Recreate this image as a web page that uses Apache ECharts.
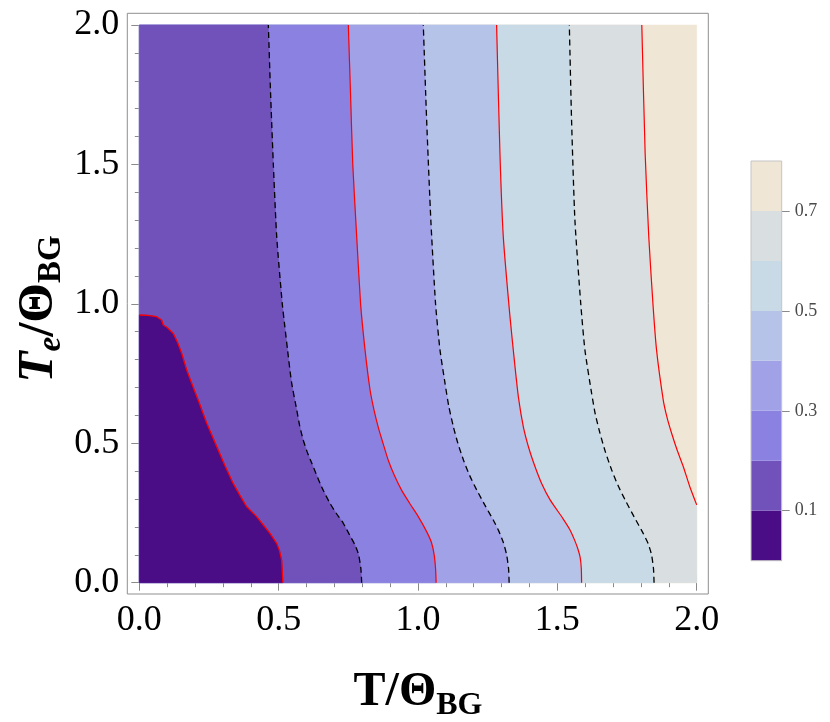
<!DOCTYPE html>
<html><head><meta charset="utf-8">
<script src="https://cdn.jsdelivr.net/npm/echarts@6/dist/echarts.min.js"></script>
<style>html,body{margin:0;padding:0;background:#fff}#chart{width:830px;height:722px}</style>
</head><body><div id="chart"></div>
<script>
// ---------- data ----------
const xDomain = [0, 2];
const yDomain = [0, 2];
const xTickValues = [0, 0.5, 1.0, 1.5, 2.0];
const yTickValues = [0, 0.5, 1.0, 1.5, 2.0];
const contourLevels = [0.1, 0.2, 0.3, 0.4, 0.5, 0.6, 0.7];
const colorbarEdges = [0, 0.1, 0.2, 0.3, 0.4, 0.5, 0.6, 0.7, 0.8];
const colorbarLabelValues = [0.1, 0.3, 0.5, 0.7];

// contour lines, points [x, y] ordered from bottom to top
const contour_01 = [[0.515,0],[0.513,0.04],[0.511,0.08],[0.503,0.115],[0.493,0.141],[0.469,0.177],[0.445,0.207],[0.421,0.237],[0.385,0.273],[0.360,0.315],[0.337,0.356],[0.307,0.42],[0.278,0.488],[0.242,0.572],[0.215,0.645],[0.188,0.715],[0.170,0.763],[0.152,0.823],[0.137,0.862],[0.122,0.894],[0.100,0.915],[0.086,0.924],[0.080,0.942],[0.062,0.954],[0.03,0.959],[0,0.960]];
const contour_02 = [[0.798,0],[0.795,0.05],[0.787,0.1],[0.774,0.135],[0.755,0.17],[0.732,0.213],[0.706,0.25],[0.684,0.285],[0.654,0.344],[0.619,0.428],[0.602,0.47],[0.588,0.512],[0.575,0.565],[0.565,0.619],[0.546,0.72],[0.532,0.834],[0.522,0.92],[0.513,1.0],[0.493,1.241],[0.481,1.498],[0.471,1.755],[0.463,2.0]];
const contour_03 = [[1.065,0],[1.063,0.05],[1.058,0.1],[1.048,0.145],[1.030,0.185],[1.001,0.237],[0.970,0.285],[0.941,0.332],[0.915,0.385],[0.893,0.44],[0.872,0.508],[0.857,0.559],[0.842,0.62],[0.828,0.691],[0.810,0.834],[0.794,1.0],[0.780,1.241],[0.766,1.498],[0.758,1.75],[0.750,2.0]];
const contour_04 = [[1.327,0],[1.325,0.05],[1.318,0.1],[1.306,0.145],[1.290,0.185],[1.270,0.225],[1.240,0.278],[1.211,0.332],[1.185,0.385],[1.163,0.44],[1.143,0.5],[1.127,0.559],[1.110,0.635],[1.097,0.715],[1.079,0.834],[1.063,1.0],[1.046,1.301],[1.031,1.659],[1.019,2.0]];
const contour_05 = [[1.587,0],[1.586,0.05],[1.582,0.09],[1.574,0.12],[1.563,0.15],[1.545,0.19],[1.520,0.23],[1.474,0.297],[1.444,0.355],[1.420,0.416],[1.397,0.485],[1.378,0.559],[1.361,0.66],[1.348,0.775],[1.330,0.954],[1.306,1.241],[1.294,1.54],[1.282,2.0]];
const contour_06 = [[1.847,0],[1.845,0.05],[1.838,0.1],[1.826,0.14],[1.808,0.177],[1.776,0.235],[1.743,0.297],[1.717,0.35],[1.695,0.404],[1.672,0.47],[1.653,0.536],[1.636,0.605],[1.623,0.679],[1.599,0.834],[1.584,1.0],[1.563,1.301],[1.551,1.659],[1.543,2.0]];
const contour_07 = [[2.0,0.279],[1.975,0.345],[1.952,0.416],[1.930,0.475],[1.910,0.536],[1.893,0.595],[1.880,0.655],[1.856,0.834],[1.843,1.0],[1.828,1.241],[1.815,1.54],[1.803,2.0]];

// ---------- styles ----------
const bandColors = ['#4b0d85','#7152bb','#8b81e0','#a1a1e7','#b4c3e7','#c8dae6','#d9dfe0','#f0e6d6'];
const lineStyles = [
  {color:'#ff0000', width:1.3},
  {color:'#000000', width:1.3, type:[6,4]},
  {color:'#ff0000', width:1.2},
  {color:'#000000', width:1.3, type:[6,4]},
  {color:'#ff0000', width:1.2},
  {color:'#000000', width:1.3, type:[6,4]},
  {color:'#ff0000', width:1.2}
];
const SERIF = '"Liberation Serif","DejaVu Serif",serif';

const contours = [contour_01, contour_02, contour_03, contour_04, contour_05, contour_06, contour_07];

// polygons of region "value < level", last band is the full domain
function regionPolygon(k) {
  const pts = contours[k];
  const x0 = xDomain[0], x1 = xDomain[1], y0 = yDomain[0], y1 = yDomain[1];
  const first = pts[0], last = pts[pts.length - 1];
  const poly = [[x0, y0]];
  if (first[0] === x1) poly.push([x1, y0]);
  pts.forEach(p => poly.push(p));
  if (last[1] === y1) poly.push([x0, y1]);
  return poly;
}
const fullRect = [[xDomain[0], yDomain[0]],[xDomain[1], yDomain[0]],[xDomain[1], yDomain[1]],[xDomain[0], yDomain[1]]];
const fillPolys = [fullRect];
const fillColors = [bandColors[7]];
for (let k = contours.length - 1; k >= 0; k--) {
  fillPolys.push(regionPolygon(k));
  fillColors.push(bandColors[k]);
}

const chart = echarts.init(document.getElementById('chart'), null, {renderer:'canvas'});

const tickColor = '#8a8a8a';
const fmt1 = v => v.toFixed(1);

const series = [];
series.push({
  type: 'custom',
  coordinateSystem: 'cartesian2d',
  xAxisIndex: 1, yAxisIndex: 1,
  silent: true,
  data: fillPolys.map((p, i) => [i, 0]),
  encode: {x: 0, y: 1},
  renderItem: function (params, api) {
    const poly = fillPolys[params.dataIndex].map(p => api.coord(p));
    return {type: 'polygon', shape: {points: poly}, style: {fill: fillColors[params.dataIndex], stroke: fillColors[params.dataIndex], lineWidth: 0.5}};
  },
  z: 1
});
contours.forEach((c, k) => {
  series.push({
    type: 'line',
    xAxisIndex: 1, yAxisIndex: 1,
    data: c,
    showSymbol: false,
    symbol: 'none',
    smooth: k === 0 ? false : 0.2,
    lineStyle: lineStyles[k],
    silent: true,
    z: 3
  });
});
for (let i = 0; i < colorbarEdges.length - 1; i++) {
  series.push({
    type: 'bar',
    xAxisIndex: 3, yAxisIndex: 3,
    stack: 'cb',
    barWidth: '100%',
    data: [colorbarEdges[i + 1] - colorbarEdges[i]],
    itemStyle: {color: bandColors[i]},
    silent: true
  });
}

const option = {
  animation: false,
  backgroundColor: '#ffffff',
  grid: [
    {left: 127.3, top: 13.3, right: 121.7, bottom: 128, show: true, borderColor: '#8f8f8f', borderWidth: 1, backgroundColor: 'transparent'},
    {left: 139.3, top: 25, right: 133.3, bottom: 139.3},
    {left: 751, top: 161, width: 30.7, height: 399.7, show: true, borderColor: '#c4c4c4', borderWidth: 1, backgroundColor: 'transparent', z: 5}
  ],
  xAxis: [
    {gridIndex: 0, type: 'value', min: -0.042, max: 2.042, show: false},
    {gridIndex: 1, type: 'value', min: xDomain[0], max: xDomain[1], interval: 0.5, position: 'bottom', offset: 11.3,
      axisLine: {show: false},
      axisTick: {show: true, inside: true, length: 8, lineStyle: {color: tickColor, width: 1}},
      minorTick: {show: true, splitNumber: 5, length: 4.5, lineStyle: {color: tickColor, width: 1}},
      axisLabel: {show: true, fontFamily: SERIF, fontSize: 36, color: '#000', margin: 9, formatter: fmt1,
        customValues: xTickValues},
      splitLine: {show: false}},
    {gridIndex: 1, type: 'value', min: xDomain[0], max: xDomain[1], interval: 0.5, position: 'top', offset: 11.7,
      axisLine: {show: false},
      axisTick: {show: true, inside: true, length: 8, lineStyle: {color: tickColor, width: 1}},
      minorTick: {show: true, splitNumber: 5, length: 4.5, lineStyle: {color: tickColor, width: 1}},
      axisLabel: {show: false},
      splitLine: {show: false}},
    {gridIndex: 2, type: 'category', data: ['c'], show: false}
  ],
  yAxis: [
    {gridIndex: 0, type: 'value', min: -0.042, max: 2.042, show: false},
    {gridIndex: 1, type: 'value', min: yDomain[0], max: yDomain[1], interval: 0.5, position: 'left', offset: 12,
      axisLine: {show: false},
      axisTick: {show: true, inside: true, length: 8, lineStyle: {color: tickColor, width: 1}},
      minorTick: {show: true, splitNumber: 5, length: 4.5, lineStyle: {color: tickColor, width: 1}},
      axisLabel: {show: true, fontFamily: SERIF, fontSize: 36, color: '#000', margin: 8, formatter: fmt1,
        customValues: yTickValues},
      splitLine: {show: false}},
    {gridIndex: 1, type: 'value', min: yDomain[0], max: yDomain[1], interval: 0.5, position: 'right', offset: 11.6,
      axisLine: {show: false},
      axisTick: {show: true, inside: true, length: 8, lineStyle: {color: tickColor, width: 1}},
      minorTick: {show: true, splitNumber: 5, length: 4.5, lineStyle: {color: tickColor, width: 1}},
      axisLabel: {show: false},
      splitLine: {show: false}},
    {gridIndex: 2, type: 'value', min: colorbarEdges[0], max: colorbarEdges[colorbarEdges.length - 1], position: 'right',
      axisLine: {show: false},
      axisTick: {show: true, length: 8, customValues: colorbarLabelValues, lineStyle: {color: tickColor, width: 1}},
      axisLabel: {show: true, customValues: colorbarLabelValues, fontFamily: SERIF, fontSize: 18, color: '#4a4a4a', margin: 13, formatter: fmt1},
      splitLine: {show: false}}
  ],
  graphic: [
    {type: 'text', x: 418, y: 692, silent: true,
      style: {text: '{a|T/Θ}{b|BG}', textAlign: 'center', textVerticalAlign: 'middle',
        rich: {
          a: {fontFamily: SERIF, fontWeight: 'bold', fontSize: 48, lineHeight: 46, verticalAlign: 'top', fill: '#000'},
          b: {fontFamily: SERIF, fontWeight: 'bold', fontSize: 32, lineHeight: 30, padding: [21, 0, 0, 0], verticalAlign: 'top', fill: '#000'}
        }}},
    {type: 'text', x: 37, y: 309, rotation: Math.PI / 2, silent: true,
      style: {text: '{ti|T}{ei|e}{a|/Θ}{b|BG}', textAlign: 'center', textVerticalAlign: 'middle',
        rich: {
          ti: {fontFamily: SERIF, fontWeight: 'bold', fontStyle: 'italic', fontSize: 51, lineHeight: 48, verticalAlign: 'top', fill: '#000'},
          ei: {fontFamily: SERIF, fontWeight: 'bold', fontStyle: 'italic', fontSize: 33, lineHeight: 31, padding: [22, 0, 0, 0], verticalAlign: 'top', fill: '#000'},
          a: {fontFamily: SERIF, fontWeight: 'bold', fontSize: 51, lineHeight: 48, verticalAlign: 'top', fill: '#000'},
          b: {fontFamily: SERIF, fontWeight: 'bold', fontSize: 33, lineHeight: 31, padding: [22, 0, 0, 0], verticalAlign: 'top', fill: '#000'}
        }}}
  ],
  series: series
};
chart.setOption(option);
</script>
</body></html>
